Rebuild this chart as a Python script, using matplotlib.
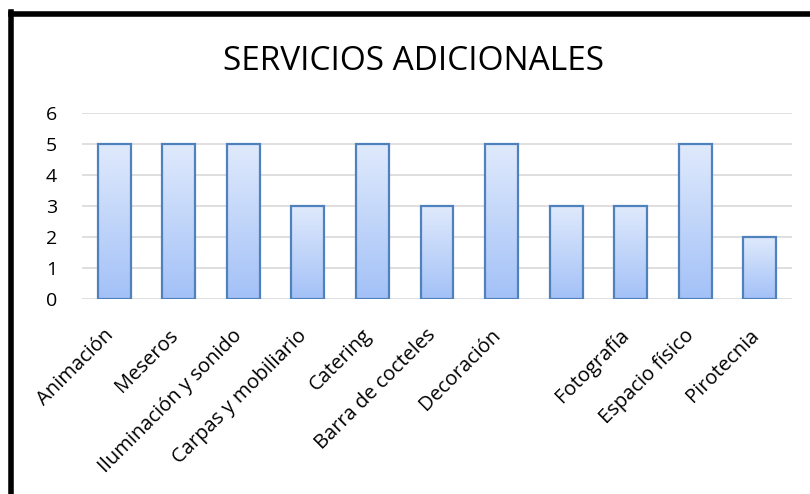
import matplotlib
matplotlib.use("Agg")
import matplotlib.pyplot as plt
from matplotlib.lines import Line2D
from matplotlib.colors import LinearSegmentedColormap
from matplotlib.transforms import ScaledTranslation
import numpy as np

# data
servicios = ["Animación", "Meseros", "Iluminación y sonido", "Carpas y mobiliario",
             "Catering", "Barra de cocteles", "Decoración", "", "Fotografía",
             "Espacio físico", "Pirotecnia"]
cantidad = [5, 5, 5, 3, 5, 3, 5, 3, 3, 5, 2]
y_ticks = [0, 1, 2, 3, 4, 5, 6]

plt.rcParams['font.family'] = ['Open Sans', 'DejaVu Sans']

W, H = 810, 494
fig = plt.figure(figsize=(W / 100, H / 100), dpi=100)
ax = fig.add_axes([82 / W, 1 - 299 / H, (792 - 82) / W, (299 - 113) / H])

x = np.arange(len(servicios))
bars = ax.bar(x, cantidad, width=0.51, facecolor="none", edgecolor="#4f81bd",
              linewidth=1.6, zorder=3)

# vertical gradient inside each bar
cmap = LinearSegmentedColormap.from_list("grad", ["#a3c1f7", "#e0eafc"])
grad = np.linspace(0, 1, 256).reshape(-1, 1)
for b in bars:
    x0, w, h = b.get_x(), b.get_width(), b.get_height()
    im = ax.imshow(grad, cmap=cmap, origin="lower", aspect="auto",
                   extent=(x0, x0 + w, 0, h), zorder=2)
    im.set_clip_path(b)

ax.set_xlim(-0.5, len(servicios) - 0.5)
ax.set_ylim(0, 6)
ax.set_yticks(y_ticks)
ax.set_yticklabels([str(v) for v in y_ticks], fontsize=14)
ax.set_xticks(x)
ax.set_xticklabels(servicios, rotation=45, ha="right", rotation_mode="anchor",
                   fontsize=14.5)
ax.tick_params(axis="both", length=0)
ax.tick_params(axis="y", pad=18)
ax.tick_params(axis="x", pad=19)
# nudge rotated labels left so they end under the bar centre
shift = ScaledTranslation(-11 / 100, 0, fig.dpi_scale_trans)
for lbl in ax.get_xticklabels():
    lbl.set_transform(lbl.get_transform() + shift)
ax.grid(axis="y", color="#d9d9d9", linewidth=1.2, zorder=0)
ax.set_axisbelow(True)
for s in ax.spines.values():
    s.set_visible(False)

fig.text(414 / W, 1 - 62 / H, "SERVICIOS ADICIONALES", ha="center", va="center",
         fontsize=24)

# thick black frame on the left and top
fig.add_artist(Line2D([11 / W, 11 / W], [0, 1 - 12 / H], color="black",
                      linewidth=4, solid_capstyle="projecting"))
fig.add_artist(Line2D([11 / W, 1], [1 - 14.5 / H, 1 - 14.5 / H], color="black",
                      linewidth=4, solid_capstyle="projecting"))

fig.savefig("out.png", dpi=100)
